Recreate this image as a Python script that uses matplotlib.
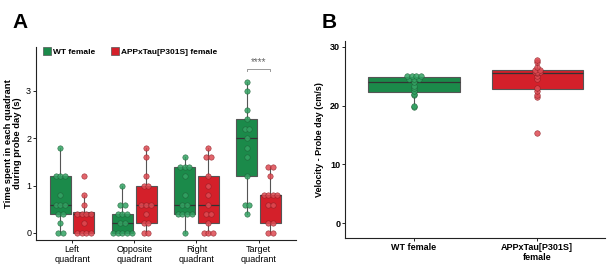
import numpy as np
import matplotlib.pyplot as plt

quadrants = ["Left\nquadrant", "Opposite\nquadrant", "Right\nquadrant", "Target\nquadrant"]
groups = ["WT female", "APPxTau[P301S] female"]

wt_time = [
    [0, 0, 0.2, 0.4, 0.4, 0.6, 0.6, 0.6, 0.8, 1.2, 1.2, 1.2, 1.8],
    [0, 0, 0, 0, 0, 0.2, 0.2, 0.4, 0.4, 0.4, 0.6, 0.6, 1.0],
    [0, 0.4, 0.4, 0.4, 0.4, 0.6, 0.6, 0.8, 1.2, 1.4, 1.4, 1.4, 1.6],
    [0.4, 0.6, 0.6, 1.2, 1.6, 1.8, 2.0, 2.2, 2.2, 2.4, 2.6, 3.0, 3.2],
]
app_time = [
    [0, 0, 0, 0, 0.2, 0.4, 0.4, 0.4, 0.4, 0.6, 0.8, 1.2],
    [0, 0, 0.2, 0.2, 0.4, 0.6, 0.6, 0.6, 1.0, 1.0, 1.2, 1.6, 1.8],
    [0, 0, 0, 0.2, 0.4, 0.4, 0.6, 0.8, 1.0, 1.2, 1.6, 1.6, 1.8],
    [0, 0, 0.2, 0.2, 0.6, 0.6, 0.8, 0.8, 0.8, 0.8, 1.2, 1.4, 1.4],
]

velocity_labels = ["WT female", "APPxTau[P301S]\nfemale"]
wt_velocity = [19.7, 20.0, 21.9, 22.0, 22.5, 23.0, 23.4, 24.0, 24.6, 24.6, 24.6,
               25.0, 25.0, 25.0, 25.0]
app_velocity = [15.4, 21.4, 21.8, 22.5, 23.0, 24.5, 25.0, 25.5, 25.7, 25.7, 25.8,
                26.0, 26.0, 26.5, 27.4, 27.8]

green = "#1b8a4a"
red = "#d4202a"
green_pt = "#33a263"
red_pt = "#dd4a52"
edge = "#555555"

plt.rcParams['font.family'] = ['Liberation Sans', 'DejaVu Sans']


def stacked_x(values, center, step):
    # dotplot-like stacking of repeated values around the centre
    xs = []
    counts = {}
    for v in values:
        counts[v] = counts.get(v, 0) + 1
    seen = {}
    for v in values:
        n = counts[v]
        i = seen.get(v, 0)
        seen[v] = i + 1
        xs.append(center + (i - (n - 1) / 2.0) * step)
    return xs


def draw_box(ax, data, pos, width, face, ptcol, step, ms):
    ax.boxplot([data], positions=[pos], widths=width, patch_artist=True,
               showfliers=False, whis=1.5,
               boxprops=dict(facecolor=face, edgecolor=edge, linewidth=0.8),
               medianprops=dict(color="#333333", linewidth=0.9),
               whiskerprops=dict(color=edge, linewidth=0.8),
               capprops=dict(linewidth=0), zorder=2)
    ax.scatter(stacked_x(data, pos, step), data, s=ms, facecolor=ptcol,
               edgecolor="#1e5e36" if face == green else "#8c1c22",
               linewidth=0.4, alpha=0.85, zorder=3)


def style(ax):
    for s in ["top", "right"]:
        ax.spines[s].set_visible(False)
    for s in ["left", "bottom"]:
        ax.spines[s].set_color("#222222")
        ax.spines[s].set_linewidth(0.8)
    ax.tick_params(length=2, width=0.6, labelsize=6.5, pad=1.5)


fig = plt.figure(figsize=(6.14, 2.64), dpi=100)

# panel A
axA = fig.add_axes([36 / 614, 1 - 240 / 264, 260 / 614, 193 / 264])
for i in range(4):
    draw_box(axA, wt_time[i], i + 1 - 0.19, 0.34, green, green_pt, 0.075, 15)
    draw_box(axA, app_time[i], i + 1 + 0.19, 0.34, red, red_pt, 0.075, 15)
axA.set_xlim(0.42, 4.6)
axA.set_ylim(-0.15, 3.93)
axA.set_xticks(range(1, 5))
axA.set_xticklabels(quadrants)
axA.set_yticks([0, 1, 2, 3])
axA.set_ylabel("Time spent in each quadrant\nduring probe day (s)", fontsize=6.8,
                fontweight="bold", labelpad=3, linespacing=1.0)
style(axA)

# significance bracket
axA.plot([4 - 0.19, 4 - 0.19, 4 + 0.19, 4 + 0.19], [3.42, 3.47, 3.47, 3.42],
         color="#999999", linewidth=0.7)
axA.text(4, 3.5, "****", ha="center", va="bottom", fontsize=7, color="#666666")

handles = [plt.Line2D([], [], marker="s", linestyle="", markersize=5.5,
                      markerfacecolor=green, markeredgecolor=edge, markeredgewidth=0.5),
           plt.Line2D([], [], marker="s", linestyle="", markersize=5.5,
                      markerfacecolor=red, markeredgecolor=edge, markeredgewidth=0.5)]
leg = axA.legend(handles, groups, loc="upper left", ncol=2, frameon=False,
                 bbox_to_anchor=(0.01, 1.02), fontsize=6.0, handlelength=0.8,
                 handletextpad=0.3, columnspacing=2.0, borderaxespad=0.2)
for t in leg.get_texts():
    t.set_fontweight("bold")

# panel B
axB = fig.add_axes([345 / 614, 1 - 238 / 264, 260 / 614, 197 / 264])
draw_box(axB, wt_velocity, 1, 0.74, green, green_pt, 0.04, 16)
draw_box(axB, app_velocity, 2, 0.74, red, red_pt, 0.04, 16)
axB.set_xlim(0.44, 2.55)
axB.set_ylim(-2.5, 31)
axB.set_xticks([1, 2])
axB.set_xticklabels(velocity_labels, fontweight="bold")
axB.set_yticks([0, 10, 20, 30])
axB.set_ylabel("Velocity - Probe day (cm/s)", fontsize=6.5, fontweight="bold", labelpad=4)
style(axB)
for t in axB.get_yticklabels():
    t.set_fontweight("bold")

fig.text(12 / 614, 1 - 22 / 264, "A", fontsize=15, fontweight="bold", va="center")
fig.text(322 / 614, 1 - 22 / 264, "B", fontsize=15, fontweight="bold", va="center")

fig.savefig("out.png", dpi=100)
